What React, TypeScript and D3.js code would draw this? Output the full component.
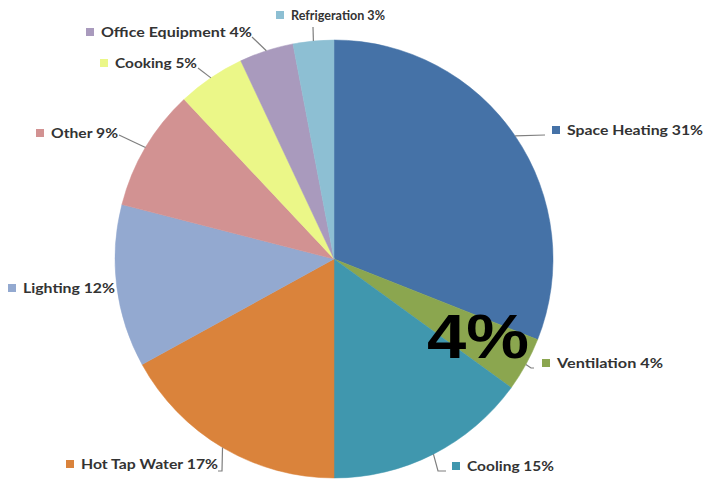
import React from "react";
import * as d3 from "d3";

const categories = [
  "Space Heating",
  "Ventilation",
  "Cooling",
  "Hot Tap Water",
  "Lighting",
  "Other",
  "Cooking",
  "Office Equipment",
  "Refrigeration",
];
const values = [31, 4, 15, 17, 12, 9, 5, 4, 3];
const colors = [
  "#4572A7",
  "#8BA64F",
  "#4097AE",
  "#DA833B",
  "#93A9D0",
  "#D29292",
  "#EBF788",
  "#A99ABD",
  "#8DBFD3",
];
const bigLabel = "4%";

// label layout: marker left x, label centre y, text width, leader path points after the slice edge
const labelLayout = [
  { x: 552, y: 130, w: 136, leader: [[545, 135]] },
  { x: 542, y: 363, w: 106, leader: [[531, 368], [534, 368]] },
  { x: 452, y: 466, w: 87, leader: [[438, 471], [446, 471]] },
  { x: 66, y: 464, w: 137, leader: [[222, 471], [218, 471]] },
  { x: 8, y: 288, w: 92, leader: [] },
  { x: 36, y: 133, w: 67, leader: [[119, 135]] },
  { x: 100, y: 63, w: 82, leader: [[198, 68]] },
  { x: 86, y: 32, w: 151, leader: [[252, 37]] },
  { x: 276, y: 15, w: 94, leader: [[313, 27]] },
];

export default function App() {
  const W = 706;
  const H = 481;
  const cx = 334;
  const cy = 259;
  const r = 219;

  const pie = d3
    .pie<number>()
    .sort(null)
    .value((d) => d);
  const arcs = pie(values);
  const arc = d3.arc<d3.PieArcDatum<number>>().innerRadius(0).outerRadius(r);

  const line = d3.line();

  return (
    <svg
      width={W}
      height={H}
      style={{ position: "absolute", left: 0, top: 0, background: "#fff" }}
    >
      <g transform={`translate(${cx},${cy})`}>
        {arcs.map((a, i) => (
          <path
            key={i}
            d={arc(a) || ""}
            fill={colors[i]}
            stroke={colors[i]}
            strokeWidth={0.5}
          />
        ))}
      </g>
      {arcs.map((a, i) => {
        const L = labelLayout[i];
        if (!L.leader.length) return null;
        const mid = (a.startAngle + a.endAngle) / 2;
        const ex = cx + r * Math.sin(mid);
        const ey = cy - r * Math.cos(mid);
        const pts: [number, number][] = [[ex, ey], ...(L.leader as [number, number][])];
        return (
          <path
            key={"l" + i}
            d={line(pts) || ""}
            fill="none"
            stroke="#7f7f7f"
            strokeWidth={1.2}
          />
        );
      })}
      {categories.map((c, i) => {
        const L = labelLayout[i];
        return (
          <g key={"t" + i}>
            <rect x={L.x} y={L.y - 4} width={8} height={8} fill={colors[i]} />
            <text
              x={L.x + 15}
              y={L.y + 5}
              fontFamily="Lato, 'Open Sans', sans-serif"
              fontWeight="bold"
              fontSize={14}
              fill="#333333"
              textLength={L.w}
              lengthAdjust="spacingAndGlyphs"
            >
              {`${c} ${values[i]}%`}
            </text>
          </g>
        );
      })}
      <text
        x={427}
        y={358}
        fontFamily="'Liberation Sans', Arial, sans-serif"
        fontWeight="bold"
        fontSize={63}
        fill="#000"
        textLength={102}
        lengthAdjust="spacingAndGlyphs"
      >
        {bigLabel}
      </text>
    </svg>
  );
}
